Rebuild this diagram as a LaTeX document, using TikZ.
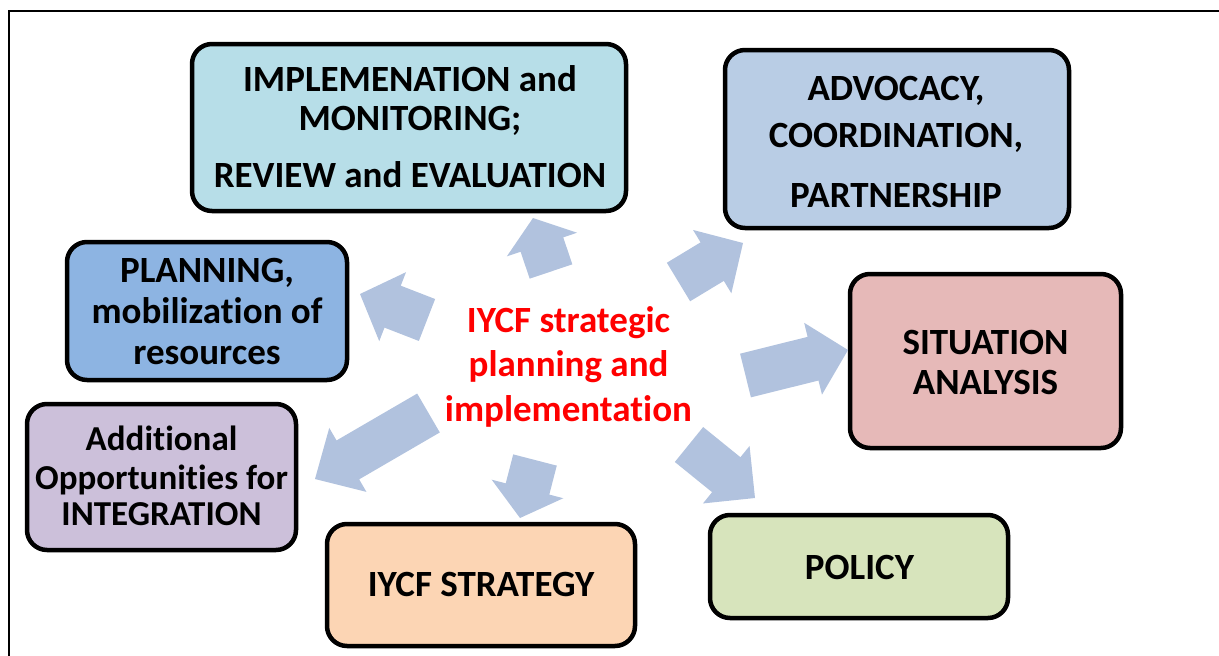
\documentclass[tikz,border=0pt]{standalone}
\usepackage{fontspec}
\setmainfont{Carlito}[Ligatures=NoCommon]
\usetikzlibrary{calc}
\definecolor{arrowc}{HTML}{B1C2DE}
\definecolor{cImpl}{HTML}{B7DEE8}
\definecolor{cAdvo}{HTML}{B9CDE5}
\definecolor{cPlan}{HTML}{8DB4E2}
\definecolor{cSitu}{HTML}{E6B9B8}
\definecolor{cAddi}{HTML}{CCC0DA}
\definecolor{cStrat}{HTML}{FCD5B4}
\definecolor{cPol}{HTML}{D7E4BC}
\definecolor{cRed}{HTML}{FF0000}
\tikzset{
  boxshape/.style={draw=black, line width=4.5pt, rounded corners=20pt, inner sep=0pt},
  txt/.style={anchor=base, inner sep=0pt, font=\fontsize{37}{37}\selectfont\bfseries},
  txtsmall/.style={anchor=base, inner sep=0pt, font=\fontsize{35}{35}\selectfont\bfseries},
  blockfill/.style={fill=arrowc}
}
% block arrow: #1 name, #2 tail coordinate, #3 tip coordinate, #4 head length
\newcommand\blockarr[4]{%
  \coordinate (#1b) at ($(#3)!#4!(#2)$);
  \fill[blockfill] ($(#2)!22.5pt!90:(#3)$) -- ($(#1b)!22.5pt!-90:(#2)$)
    -- ($(#1b)!37pt!-90:(#2)$) -- (#3) -- ($(#1b)!37pt!90:(#2)$)
    -- ($(#1b)!22.5pt!90:(#2)$) -- ($(#2)!22.5pt!-90:(#3)$) -- cycle;}
\begin{document}
\begin{tikzpicture}[x=1pt,y=-1pt]
\useasboundingbox (0,0) rectangle (1219,656);
% frame
\draw[line width=2pt] (9,656) -- (9,10.5) -- (1219,10.5);

% boxes
\node[boxshape, fill=cImpl, minimum width=434pt, minimum height=167pt] (impl) at (409,127.5) {};
\node[boxshape, fill=cAdvo, minimum width=344pt, minimum height=178pt] (advo) at (897,139) {};
\node[boxshape, fill=cPlan, minimum width=280pt, minimum height=138pt] (plan) at (207,311) {};
\node[boxshape, fill=cSitu, minimum width=271pt, minimum height=174pt] (situ) at (985.5,361) {};
\node[boxshape, fill=cAddi, minimum width=269pt, minimum height=146pt] (addi) at (161.5,477) {};
\node[boxshape, fill=cStrat, minimum width=308pt, minimum height=122pt] (strat) at (481,585) {};
\node[boxshape, fill=cPol, minimum width=298pt, minimum height=103pt] (pol) at (859,566.5) {};

% box texts
\node[txt] (implA) at (410,91) {IMPLEMENATION and};
\node[txt] (implB) at (410,130) {MONITORING;};
\node[txt] (implC) at (410,187.5) {REVIEW and EVALUATION};

\node[txt] (advoA) at (896,100) {ADVOCACY,};
\node[txt] (advoB) at (896,147) {COORDINATION,};
\node[txt] (advoC) at (896,207) {PARTNERSHIP};

\node[txt] (planA) at (207,282) {PLANNING,};
\node[txt] (planB) at (207,323) {mobilization of};
\node[txt] (planC) at (207,364) {resources};

\node[txtsmall] (addiA) at (161.5,450) {Additional};
\node[txtsmall] (addiB) at (161.5,489) {Opportunities for};
\node[txtsmall] (addiC) at (161.5,525) {INTEGRATION};

\node[txt] (situA) at (985.5,354) {SITUATION};
\node[txt] (situB) at (985.5,394) {ANALYSIS};

\node[txt] (stratA) at (481,596) {IYCF STRATEGY};
\node[txt] (polA) at (859.5,579) {POLICY};

% centre text
\node[txt, text=cRed] (cA) at (568.5,332) {IYCF strategic};
\node[txt, text=cRed] (cB) at (568.5,376) {planning and};
\node[txt, text=cRed] (cC) at (568.5,421) {implementation};

% arrow anchor coordinates
\coordinate (tUp) at (551,271.5);   \coordinate (hUp) at (533,218);
\coordinate (tPl) at (427,320);     \coordinate (hPl) at (360,294);
\coordinate (tAd) at (678.5,282);   \coordinate (hAd) at (743,243);
\coordinate (tSi) at (745.5,375.5); \coordinate (hSi) at (848,350);
\coordinate (tPo) at (689,444.5);   \coordinate (hPo) at (755,498);
\coordinate (tSt) at (535,460);     \coordinate (hSt) at (520,518);
\coordinate (tAi) at (428.5,413);   \coordinate (hAi) at (315,479);

\blockarr{aUp}{tUp}{hUp}{28pt}
\blockarr{aPl}{tPl}{hPl}{35pt}
\blockarr{aAd}{tAd}{hAd}{36pt}
\blockarr{aSi}{tSi}{hSi}{36pt}
\blockarr{aPo}{tPo}{hPo}{37pt}
\blockarr{aSt}{tSt}{hSt}{30pt}
\blockarr{aAi}{tAi}{hAi}{38pt}
\end{tikzpicture}
\end{document}
